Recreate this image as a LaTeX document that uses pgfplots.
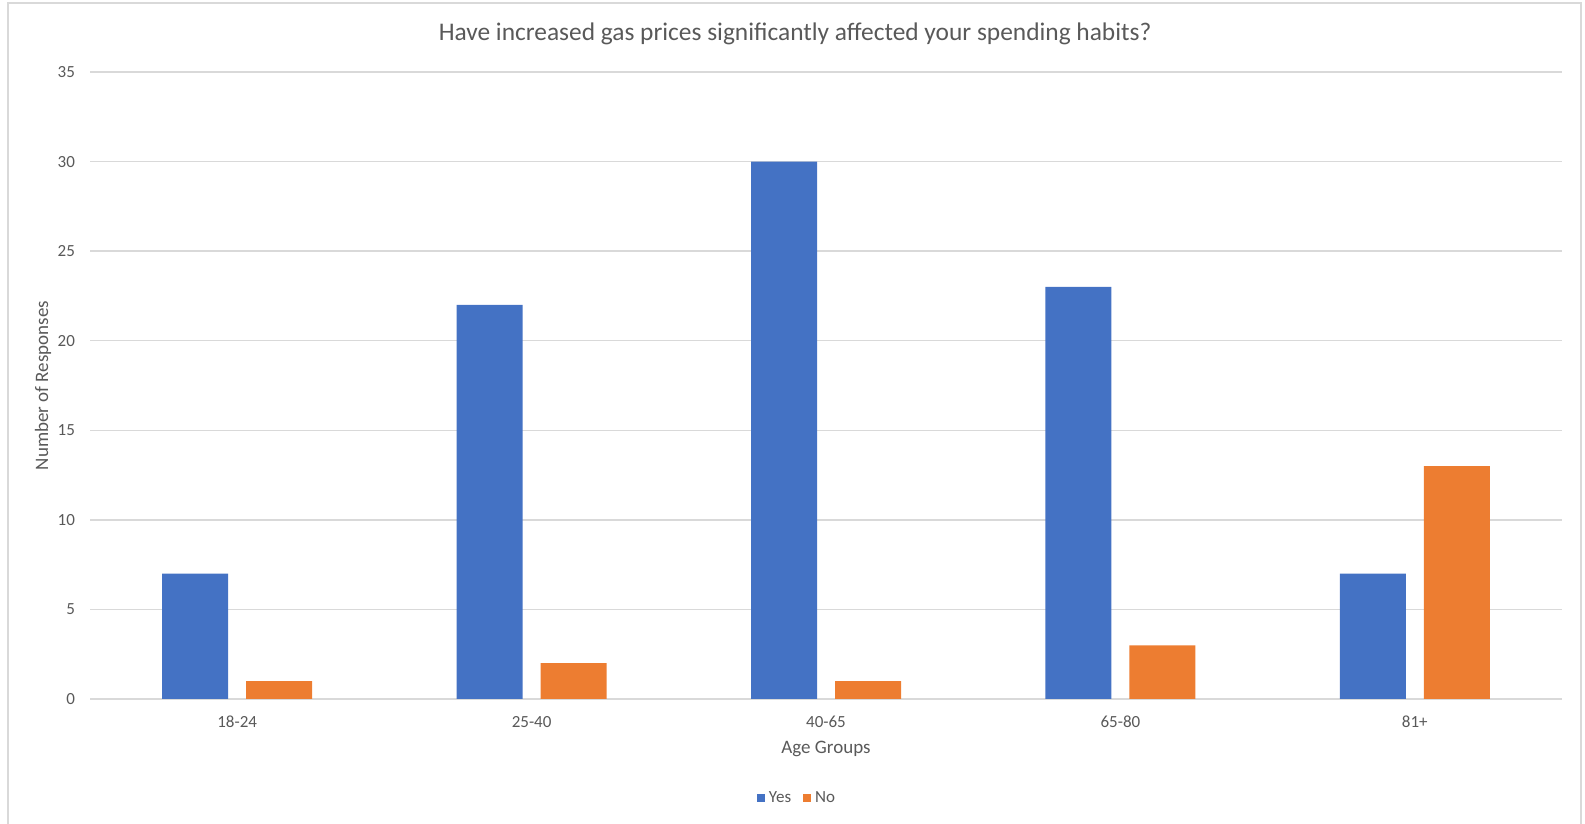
\documentclass[border=0pt]{standalone}
\usepackage{fontspec}
\setmainfont{Carlito}
\usepackage{pgfplots}
\pgfplotsset{compat=1.18}

\definecolor{txt}{HTML}{595959}
\definecolor{grd}{HTML}{D9D9D9}
\definecolor{yesblue}{HTML}{4472C4}
\definecolor{noorange}{HTML}{ED7D31}

\begin{document}
\begin{tikzpicture}
% page size: 1 px of the reference = 0.5pt
\path[use as bounding box] (-45pt,-62.5pt) rectangle (747.5pt,349.5pt);
\draw[grd, line width=0.75pt] (-41pt,-63pt) -- (-41pt,348pt) -- (745.5pt,348pt) -- (745.5pt,-63pt);

\begin{axis}[
    scale only axis,
    width=736pt, height=313.5pt,
    ybar,
    bar width=33pt,
    xmin=-0.5, xmax=4.5,
    ymin=0, ymax=35,
    ytick={0,5,...,35},
    xtick=data,
    xticklabels={18-24,25-40,40-65,65-80,81+},
    major tick length=0pt,
    axis line style={draw=none},
    ymajorgrids,
    grid style={grd, line width=0.75pt},
    font=\fontsize{8.5}{10}\selectfont,
    ticklabel style={txt, font=\fontsize{8.5}{10}\selectfont},
    /pgf/number format/assume math mode=true,
    yticklabel style={xshift=-4pt},
    xticklabel style={yshift=-5pt},
    every axis title shift=0pt,
    title={Have increased gas prices significantly affected your spending habits?},
    title style={txt, font=\fontsize{12.7}{15}\selectfont, at={(0.479,1.0616)}, anchor=center},
    xlabel={Age Groups},
    xlabel style={txt, font=\fontsize{9.5}{11}\selectfont, at={(0.5,-0.0797)}, anchor=center},
    ylabel={Number of Responses},
    ylabel style={txt, font=\fontsize{9.5}{11}\selectfont, at={(-0.0319,0.5)}, anchor=center},
    legend columns=2,
    legend style={draw=none, fill=none, at={(0.481,-0.158)}, anchor=center,
        font=\fontsize{8.5}{10}\selectfont, text=txt,
        /tikz/every even column/.append style={column sep=4pt}},
    legend image code/.code={\fill[#1] (0pt,-2pt) rectangle (4pt,2pt);},
]
\addplot[fill=yesblue, draw=none, bar shift=-21pt] coordinates {
    (0,7) (1,22) (2,30) (3,23) (4,7)
};
\addlegendentry{Yes}
\addplot[fill=noorange, draw=none, bar shift=21pt] coordinates {
    (0,1) (1,2) (2,1) (3,3) (4,13)
};
\addlegendentry{No}
\end{axis}
\end{tikzpicture}
\end{document}
